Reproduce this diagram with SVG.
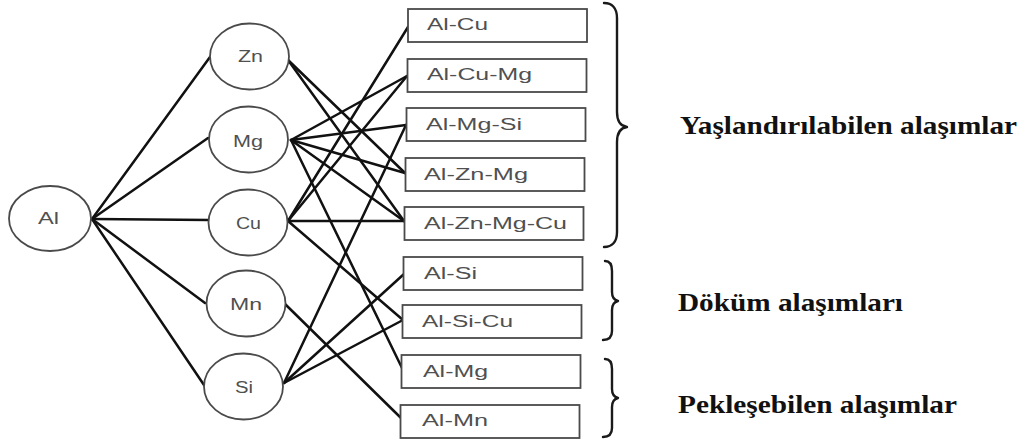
<svg xmlns="http://www.w3.org/2000/svg" width="1030" height="443" viewBox="0 0 1030 443">
  <defs>
    <style>
      .node ellipse { fill: #fff; stroke: #4a4a4a; stroke-width: 1.8; }
      .box rect { fill: #fff; stroke: #4a4a4a; stroke-width: 1.8; }
      .lbl { font-family: "Liberation Sans", Arial, sans-serif; font-size: 16px; fill: #505050; }
      #connectors line { stroke: #111; stroke-width: 2.5; stroke-linecap: round; }
      .brace { fill: none; stroke: #1a1a1a; stroke-width: 2.4; stroke-linecap: round; stroke-linejoin: round; }
      .group { font-family: "Liberation Serif", "Times New Roman", serif; font-weight: bold; font-size: 25px; fill: #111; }
    </style>
  </defs>
  <rect width="1030" height="443" fill="#fff"/>

  <!-- connectors -->
  <g id="connectors">
    <!-- Al to the alloying elements -->
    <line x1="92" y1="219" x2="210" y2="57"/>
    <line x1="92" y1="219" x2="208" y2="138"/>
    <line x1="92" y1="219" x2="209" y2="220"/>
    <line x1="92" y1="219" x2="205" y2="303"/>
    <line x1="92" y1="219" x2="204" y2="385"/>
    <!-- Zn -->
    <line x1="288" y1="60" x2="405" y2="173"/>
    <line x1="288" y1="60" x2="404" y2="221"/>
    <!-- Mg -->
    <line x1="291" y1="140" x2="407" y2="76"/>
    <line x1="291" y1="140" x2="406" y2="125"/>
    <line x1="291" y1="140" x2="405" y2="173"/>
    <line x1="291" y1="140" x2="404" y2="221"/>
    <line x1="291" y1="140" x2="402" y2="368"/>
    <!-- Cu -->
    <line x1="288" y1="221" x2="408" y2="27"/>
    <line x1="288" y1="221" x2="407" y2="76"/>
    <line x1="288" y1="221" x2="404" y2="221"/>
    <line x1="288" y1="221" x2="403" y2="320"/>
    <!-- Mn -->
    <line x1="285" y1="304" x2="401" y2="418"/>
    <!-- Si -->
    <line x1="284" y1="383" x2="406" y2="125"/>
    <line x1="284" y1="383" x2="404" y2="274"/>
    <line x1="284" y1="383" x2="403" y2="320"/>
  </g>

  <!-- base metal and alloying elements -->
  <g id="n-al" class="node"><ellipse cx="50" cy="218.5" rx="41" ry="32.5"/><text class="lbl" x="38" y="224" textLength="21" lengthAdjust="spacingAndGlyphs">Al</text></g>
  <g id="n-zn" class="node"><ellipse cx="249.5" cy="56.5" rx="39.5" ry="33"/><text class="lbl" x="238" y="62" textLength="25" lengthAdjust="spacingAndGlyphs">Zn</text></g>
  <g id="n-mg" class="node"><ellipse cx="248.5" cy="139.5" rx="39.5" ry="33"/><text class="lbl" x="233" y="147" textLength="30" lengthAdjust="spacingAndGlyphs">Mg</text></g>
  <g id="n-cu" class="node"><ellipse cx="248" cy="222.5" rx="39.5" ry="33"/><text class="lbl" x="236" y="229" textLength="25" lengthAdjust="spacingAndGlyphs">Cu</text></g>
  <g id="n-mn" class="node"><ellipse cx="246" cy="303.5" rx="39.5" ry="33"/><text class="lbl" x="230" y="310" textLength="32" lengthAdjust="spacingAndGlyphs">Mn</text></g>
  <g id="n-si" class="node"><ellipse cx="243.5" cy="386.5" rx="39.5" ry="33"/><text class="lbl" x="235" y="393" textLength="18" lengthAdjust="spacingAndGlyphs">Si</text></g>

  <!-- alloy systems -->
  <g id="b-alcu" class="box"><rect x="408" y="9" width="179" height="33"/><text class="lbl" x="427" y="30" textLength="61" lengthAdjust="spacingAndGlyphs">Al-Cu</text></g>
  <g id="b-alcumg" class="box"><rect x="407.5" y="59" width="179" height="33"/><text class="lbl" x="427" y="80" textLength="105" lengthAdjust="spacingAndGlyphs">Al-Cu-Mg</text></g>
  <g id="b-almgsi" class="box"><rect x="406.5" y="108" width="179" height="33"/><text class="lbl" x="426" y="130" textLength="96" lengthAdjust="spacingAndGlyphs">Al-Mg-Si</text></g>
  <g id="b-alznmg" class="box"><rect x="405.5" y="158" width="179" height="33"/><text class="lbl" x="424" y="180" textLength="104" lengthAdjust="spacingAndGlyphs">Al-Zn-Mg</text></g>
  <g id="b-alznmgcu" class="box"><rect x="404.5" y="207" width="179" height="33"/><text class="lbl" x="424" y="229" textLength="143" lengthAdjust="spacingAndGlyphs">Al-Zn-Mg-Cu</text></g>
  <g id="b-alsi" class="box"><rect x="403.5" y="257" width="179" height="33"/><text class="lbl" x="424" y="279" textLength="53" lengthAdjust="spacingAndGlyphs">Al-Si</text></g>
  <g id="b-alsicu" class="box"><rect x="402.5" y="305" width="179" height="33"/><text class="lbl" x="422" y="327" textLength="91" lengthAdjust="spacingAndGlyphs">Al-Si-Cu</text></g>
  <g id="b-almg" class="box"><rect x="401.5" y="355" width="179" height="33"/><text class="lbl" x="423" y="377" textLength="65" lengthAdjust="spacingAndGlyphs">Al-Mg</text></g>
  <g id="b-almn" class="box"><rect x="400.5" y="405" width="179" height="33"/><text class="lbl" x="422" y="426" textLength="66" lengthAdjust="spacingAndGlyphs">Al-Mn</text></g>

  <!-- groupings -->
  <g id="grp-aging">
    <path class="brace" d="M604 3 C612 3 617 8 617 18 L617 112 C617 121 620 126 627 127 C620 128 617 133 617 142 L617 232 C617 242 612 247 604 247"/>
    <text class="group" x="680" y="134" textLength="337" lengthAdjust="spacingAndGlyphs">Yaşlandırılabilen alaşımlar</text>
  </g>
  <g id="grp-cast">
    <path class="brace" d="M605 261 C610 261 612 265 612 271 L612 292 C612 297 614 300 618 301 C614 302 612 305 612 310 L612 331 C612 337 609 340 603 340"/>
    <text class="group" x="678" y="311" textLength="225" lengthAdjust="spacingAndGlyphs">Döküm alaşımları</text>
  </g>
  <g id="grp-work">
    <path class="brace" d="M605 359 C610 359 612 363 612 369 L612 389 C612 394 614 397 618 398 C614 399 612 402 612 407 L612 428 C612 434 609 437 603 437"/>
    <text class="group" x="678" y="413" textLength="279" lengthAdjust="spacingAndGlyphs">Pekleşebilen alaşımlar</text>
  </g>
</svg>
